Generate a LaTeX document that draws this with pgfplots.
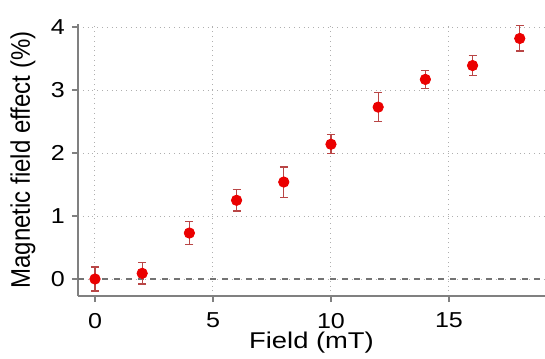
\documentclass[border=0pt]{standalone}
\usepackage{pgfplots}
\pgfplotsset{compat=1.18}
\usepackage{fontspec}
\setmainfont{Liberation Sans}
% slightly widened faces for horizontal text
\newfontfamily\wideface[FakeStretch=1.2]{Liberation Sans}
\newfontfamily\tickface[FakeStretch=1.16]{Liberation Sans}
\definecolor{axisgray}{RGB}{128,128,128}
\definecolor{gridgray}{RGB}{175,175,175}
\definecolor{markred}{RGB}{235,0,0}
\definecolor{barred}{RGB}{185,70,70}
\begin{document}
\begin{tikzpicture}
\begin{axis}[
  at={(0,0)}, anchor=south west,
  scale only axis,
  width=233.5pt, height=136pt,
  xmin=-0.72, xmax=19.07,
  ymin=-0.27, ymax=4.05,
  axis x line*=bottom, axis y line*=left,
  axis line style={axisgray, line width=1pt, -},
  xtick={0,5,10,15}, ytick={0,1,2,3,4},
  tick align=outside, major tick length=3pt,
  tick style={axisgray, line width=0.8pt},
  grid=major,
  major grid style={gridgray, dotted, line width=0.5pt},
  tick label style={font=\tickface\fontsize{10.8}{12}\selectfont},
  xticklabel style={yshift=-2pt},
  /pgf/number format/assume math mode=true,
  xlabel={Field (mT)},
  ylabel={\scalebox{1}[1.12]{Magnetic field effect (\%)}},
  xlabel style={font=\wideface\fontsize{11.4}{13}\selectfont,
    at={(axis description cs:0.5,0)}, anchor=center, yshift=-23.5pt},
  ylabel style={font=\fontsize{12}{14}\selectfont,
    at={(axis description cs:0,0.5)}, anchor=center, yshift=27.5pt},
  clip=false,
]
\draw[axisgray!90!black, dashed, line width=0.6pt] (axis cs:-0.72,0) -- (axis cs:19.07,0);
\addplot[only marks, mark=*, mark size=2.6pt,
  mark options={fill=markred, draw=markred},
  error bars/.cd, y dir=both, y explicit,
  error bar style={color=barred, line width=0.6pt},
  error mark options={rotate=90, mark size=2pt, color=barred, line width=0.6pt}]
  coordinates {
  (0,0.00) +- (0,0.19)
  (2,0.09) +- (0,0.17)
  (4,0.73) +- (0,0.18)
  (6,1.25) +- (0,0.17)
  (8,1.54) +- (0,0.24)
  (10,2.14) +- (0,0.15)
  (12,2.73) +- (0,0.23)
  (14,3.17) +- (0,0.14)
  (16,3.39) +- (0,0.155)
  (18,3.82) +- (0,0.20)
  };
\end{axis}
\pgfresetboundingbox
\path[use as bounding box] (-39pt,-31pt) rectangle (233.5pt,148pt);
\end{tikzpicture}
\end{document}
